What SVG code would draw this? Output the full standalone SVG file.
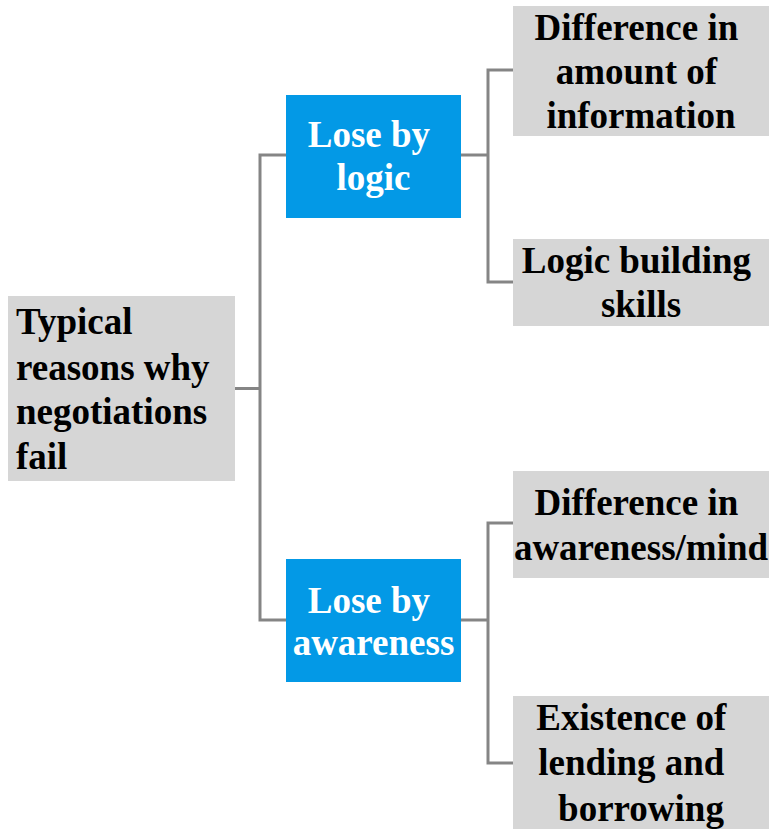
<svg xmlns="http://www.w3.org/2000/svg" width="769" height="829" viewBox="0 0 769 829">
  <style>
    .grey { fill: #d6d6d6; }
    .blue { fill: #0399e6; }
    .t { font-family: "Liberation Serif", "Times New Roman", serif; font-weight: bold; font-size: 37px; }
    .dark { fill: #000000; }
    .light { fill: #ffffff; }
    .link { fill: none; stroke: #858585; stroke-width: 3; }
  </style>

  <rect width="769" height="829" fill="#ffffff"/>

  <!-- connectors -->
  <g id="connectors">
    <path class="link" d="M235 388.5 H260 M286 155 H260 V620 H286"/>
    <path class="link" d="M461 155 H488 M513 70 H488 V282 H513"/>
    <path class="link" d="M461 620 H488 M513 523 H488 V763 H513"/>
  </g>

  <!-- root -->
  <g id="root">
    <rect class="grey" x="8" y="296" width="227" height="185"/>
    <text class="t dark" x="16">
      <tspan x="16" y="334">Typical</tspan>
      <tspan x="16" y="380">reasons why</tspan>
      <tspan x="16" y="424">negotiations</tspan>
      <tspan x="16" y="469">fail</tspan>
    </text>
  </g>

  <!-- branch: logic -->
  <g id="lose-logic">
    <rect class="blue" x="286" y="95" width="175" height="123"/>
    <text class="t light" text-anchor="middle">
      <tspan x="373.5" y="147">Lose by</tspan>
      <tspan x="373.5" y="190">logic</tspan>
    </text>
  </g>

  <!-- branch: awareness -->
  <g id="lose-awareness">
    <rect class="blue" x="286" y="559" width="175" height="123"/>
    <text class="t light" text-anchor="middle">
      <tspan x="373.5" y="613">Lose by</tspan>
      <tspan x="373.5" y="655">awareness</tspan>
    </text>
  </g>

  <!-- leaves -->
  <g id="info-difference">
    <rect class="grey" x="513" y="6" width="256" height="130"/>
    <text class="t dark" text-anchor="middle">
      <tspan x="641" y="40">Difference in</tspan>
      <tspan x="641" y="84">amount of</tspan>
      <tspan x="641" y="128">information</tspan>
    </text>
  </g>

  <g id="logic-skills">
    <rect class="grey" x="513" y="239" width="256" height="87"/>
    <text class="t dark" text-anchor="middle">
      <tspan x="641" y="273">Logic building</tspan>
      <tspan x="641" y="317">skills</tspan>
    </text>
  </g>

  <g id="awareness-difference">
    <rect class="grey" x="513" y="471" width="256" height="107"/>
    <text class="t dark" text-anchor="middle">
      <tspan x="641" y="515">Difference in</tspan>
      <tspan x="641" y="560">awareness/mind</tspan>
    </text>
  </g>

  <g id="lending-borrowing">
    <rect class="grey" x="513" y="696" width="256" height="133"/>
    <text class="t dark" text-anchor="middle">
      <tspan x="636" y="730">Existence of</tspan>
      <tspan x="636" y="775">lending and</tspan>
      <tspan x="641" y="821">borrowing</tspan>
    </text>
  </g>
</svg>
